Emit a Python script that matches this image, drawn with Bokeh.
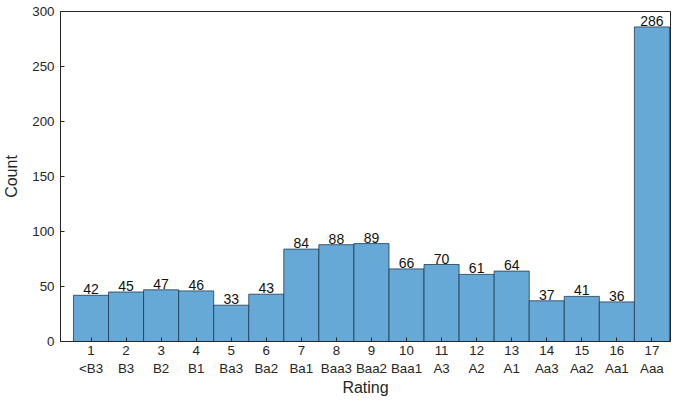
from bokeh.plotting import figure
from bokeh.models import ColumnDataSource, Range1d, FixedTicker
from bokeh.core.properties import value
from bokeh.embed import file_html
from bokeh.resources import INLINE

ratings = ["<B3", "B3", "B2", "B1", "Ba3", "Ba2", "Ba1", "Baa3", "Baa2", "Baa1",
           "A3", "A2", "A1", "Aa3", "Aa2", "Aa1", "Aaa"]
counts = [42, 45, 47, 46, 33, 43, 84, 88, 89, 66, 70, 61, 64, 37, 41, 36, 286]
positions = list(range(1, len(ratings) + 1))

src = ColumnDataSource(dict(x=positions, top=counts, lbl=[str(c) for c in counts]))

p = figure(width=672, height=398, output_backend="svg", toolbar_location=None,
           x_range=Range1d(0.13, 17.53), y_range=Range1d(0, 300),
           min_border_left=40, min_border_top=11, min_border_right=2, min_border_bottom=40)

p.vbar(x="x", top="top", width=1, source=src, fill_color="#66A9D6",
       line_color="#1f3a52", line_width=0.8)
p.text(x="x", y="top", text="lbl", source=src, text_align="center",
       text_baseline="bottom", y_offset=-1, text_font_size="10.5pt",
       text_font=value("Liberation Sans"), text_color="#111111")

p.xaxis.ticker = FixedTicker(ticks=positions)
p.xaxis.major_label_overrides = {i: f"{i}\n{r}" for i, r in zip(positions, ratings)}
p.yaxis.ticker = FixedTicker(ticks=[0, 50, 100, 150, 200, 250, 300])
p.xaxis.axis_label = "Rating"
p.yaxis.axis_label = "Count"

for ax in (p.xaxis, p.yaxis):
    ax.major_tick_in = 4
    ax.major_tick_out = 0
    ax.minor_tick_line_color = None
    ax.axis_line_color = "#262626"
    ax.major_tick_line_color = "#262626"
    ax.major_label_text_font = "Liberation Sans"
    ax.major_label_text_font_size = "10pt"
    ax.major_label_text_color = "#262626"
    ax.axis_label_text_font = "Liberation Sans"
    ax.axis_label_text_font_size = "12pt"
    ax.axis_label_text_font_style = "normal"
    ax.axis_label_text_color = "#262626"
p.xaxis.major_label_standoff = 1
p.xaxis.axis_label_standoff = 0
p.yaxis.axis_label_standoff = 9
p.yaxis.major_label_standoff = 6

p.grid.grid_line_color = None
p.outline_line_color = "#262626"
p.outline_line_alpha = 1

open("out.html", "w").write(file_html(p, INLINE))
